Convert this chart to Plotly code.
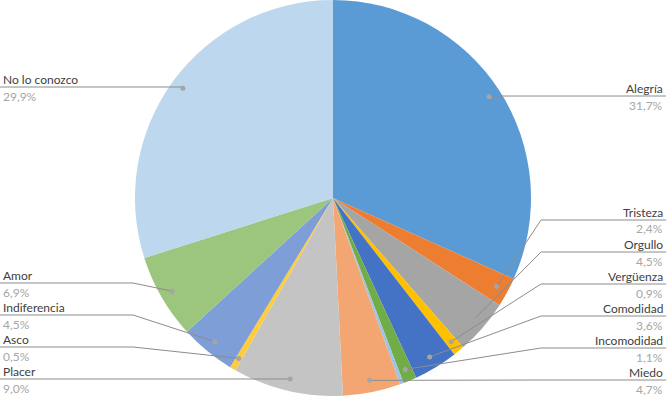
import math
import plotly.graph_objects as go

# ---- data ----
labels = ["Alegría", "Tristeza", "Orgullo", "Vergüenza", "Comodidad", "Incomodidad",
          "Otro", "Miedo", "Placer", "Asco", "Indiferencia", "Amor", "No lo conozco"]
values = [31.7, 2.4, 4.5, 0.9, 3.6, 1.1, 0.3, 4.7, 9.0, 0.5, 4.5, 6.9, 29.9]
pct_text = ["31,7%", "2,4%", "4,5%", "0,9%", "3,6%", "1,1%", "", "4,7%",
            "9,0%", "0,5%", "4,5%", "6,9%", "29,9%"]
colors = ["#5B9BD5", "#ED7D31", "#A5A5A5", "#FFC000", "#4472C4", "#70AD47",
          "#9DC3E6", "#F4A672", "#C4C4C4", "#FFCD39", "#7D9ED7", "#9CC67E", "#BDD7EE"]

# ---- layout of callouts (pixel rows of the leader lines) ----
W, H = 666, 396
CX, CY = 333, 198
DOT_R = 186
line_y = {"Alegría": 96, "Tristeza": 220, "Orgullo": 252, "Vergüenza": 284,
          "Comodidad": 316, "Incomodidad": 348, "Miedo": 380,
          "Placer": 379, "Asco": 347, "Indiferencia": 315, "Amor": 283,
          "No lo conozco": 87}
right_side = {"Alegría", "Tristeza", "Orgullo", "Vergüenza", "Comodidad", "Incomodidad", "Miedo"}
ELBOW_R = 541
ELBOW_L = 133


def px(x):
    return x / W


def py(y):
    return 1 - y / H


fig = go.Figure(go.Pie(
    labels=labels, values=values, sort=False, direction="clockwise", rotation=0,
    marker=dict(colors=colors, line=dict(width=0)),
    textinfo="none", hoverinfo="label+percent", showlegend=False,
    domain=dict(x=[0, 1], y=[0, 1]),
))

shapes = []
annotations = []
total = sum(values)
cum = 0.0
name_font = dict(family="Lato, Carlito, sans-serif", size=12, color="#404040")
pct_font = dict(family="Lato, Carlito, sans-serif", size=12, color="#A6A6A6")
for lab, v, t in zip(labels, values, pct_text):
    mid = (cum + v / 2) / total * 2 * math.pi
    cum += v
    if lab not in line_y:
        continue
    dx = CX + DOT_R * math.sin(mid)
    dy = CY - DOT_R * math.cos(mid)
    ly = line_y[lab]
    if lab in right_side:
        ex = ELBOW_R if lab != "Alegría" else dx
        pts = [(dx, dy), (ex, ly), (W, ly)]
        xanchor, tx = "right", W - 2
    else:
        ex = ELBOW_L if lab != "No lo conozco" else dx
        pts = [(dx, dy), (ex, ly), (0, ly)]
        xanchor, tx = "left", 2
    path = "M " + " L ".join(f"{px(a)},{py(b)}" for a, b in pts)
    shapes.append(dict(type="path", path=path, xref="paper", yref="paper",
                       line=dict(color="#8C8C8C", width=1)))
    shapes.append(dict(type="circle", xref="paper", yref="paper",
                       x0=px(dx - 2.5), x1=px(dx + 2.5), y0=py(dy + 2.5), y1=py(dy - 2.5),
                       fillcolor="#A5A5A5", line=dict(width=0)))
    annotations.append(dict(x=px(tx), y=py(ly + 1), xref="paper", yref="paper",
                            text=lab, showarrow=False, xanchor=xanchor, yanchor="bottom",
                            borderpad=0, font=name_font))
    annotations.append(dict(x=px(tx), y=py(ly + 0.5), xref="paper", yref="paper",
                            text=t, showarrow=False, xanchor=xanchor, yanchor="top",
                            borderpad=0, font=pct_font))

fig.update_layout(
    width=W, height=H, margin=dict(l=0, r=0, t=0, b=0),
    paper_bgcolor="white", plot_bgcolor="white",
    shapes=shapes, annotations=annotations,
)

fig.write_html("out.html", config={"displayModeBar": False},
               post_script="document.body.style.margin='0';document.body.style.overflow='hidden';")
